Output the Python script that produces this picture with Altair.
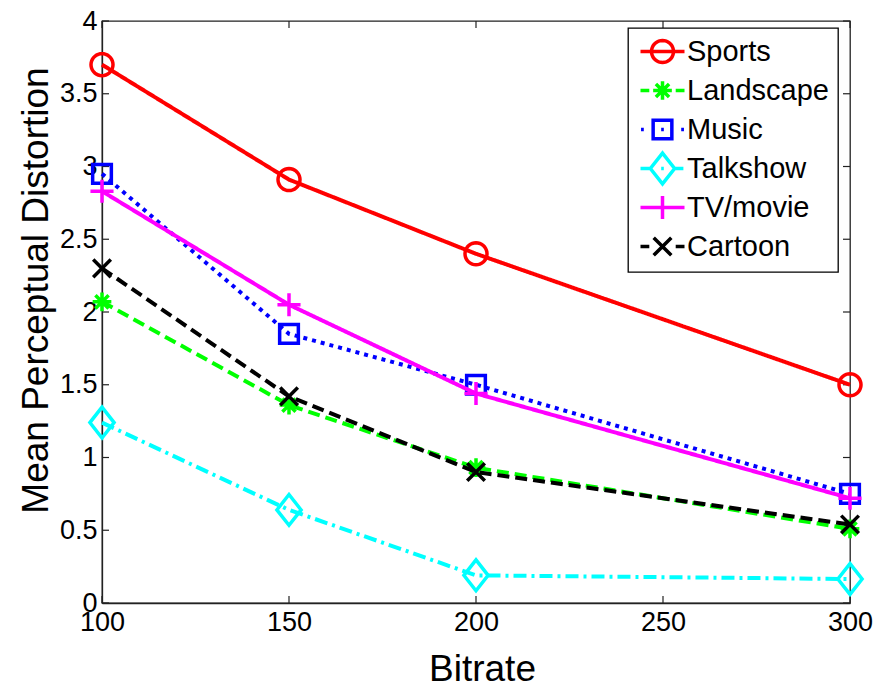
import math
import altair as alt
import pandas as pd

# ---- data ----
bitrates = [100, 150, 200, 300]
series_names = ["Sports", "Landscape", "Music", "Talkshow", "TV/movie", "Cartoon"]
sports = [3.70, 2.91, 2.40, 1.50]
landscape = [2.07, 1.36, 0.93, 0.51]
music = [2.95, 1.85, 1.50, 0.75]
talkshow = [1.24, 0.64, 0.19, 0.165]
tvmovie = [2.83, 2.05, 1.44, 0.72]
cartoon = [2.30, 1.42, 0.90, 0.54]
values = [sports, landscape, music, talkshow, tvmovie, cartoon]

x_ticks = [100, 150, 200, 250, 300]
y_ticks = [0, 0.5, 1, 1.5, 2, 2.5, 3, 3.5, 4]

# ---- styles ----
colors = ["#FF0000", "#00FF00", "#0000FF", "#00FFFF", "#FF00FF", "#000000"]
dashes = [[1, 0], [12, 6], [4, 5], [13, 5, 3, 5], [1, 0], [12, 6]]


def circle_path(cx=0.0, r=1.0, n=36):
    pts = []
    for i in range(n):
        a = 2 * math.pi * i / n
        pts.append(f"{cx + r * math.cos(a):.3f},{r * math.sin(a):.3f}")
    return "M" + "L".join(pts) + "Z"


def markers(cx=0.0):
    c = cx
    return [
        circle_path(c, 1.0),
        f"M{c-0.85},0H{c+0.85}M{c},-0.85V0.85M{c-0.6},-0.6L{c+0.6},0.6M{c-0.6},0.6L{c+0.6},-0.6",
        f"M{c-0.85},-0.85H{c+0.85}V0.85H{c-0.85}Z",
        f"M{c},-1.4L{c+1.1},0L{c},1.4L{c-1.1},0Z",
        f"M{c-1.05},0H{c+1.05}M{c},-1.05V1.05",
        f"M{c-0.8},-0.8L{c+0.8},0.8M{c-0.8},0.8L{c+0.8},-0.8",
    ]


plot_shapes = markers(0.0)
# legend symbols: line sample + marker, marker centred at x=+1 unit
leg_lines = [
    "M-1,0H3",
    "M-1,0H-0.2M2.2,0H3",
    "M-0.95,0H-0.7M0.88,0H1.12M2.7,0H2.95",
    "M-1,0H-0.15M0.88,0H1.12M2.15,0H2.9",
    "M-1,0H3",
    "M-1,0H-0.2M2.2,0H3",
]
legend_shapes = [l + m for l, m in zip(leg_lines, markers(1.0))]

rows = []
for name, vals in zip(series_names, values):
    for b, v in zip(bitrates, vals):
        rows.append({"Bitrate": b, "Distortion": v, "Series": name})
df = pd.DataFrame(rows)

W, H = 748, 582
FONT = "Liberation Sans"

x_scale = alt.Scale(domain=[100, 300], nice=False, zero=False)
y_scale = alt.Scale(domain=[0, 4], nice=False, zero=False)
color_scale = alt.Scale(domain=series_names, range=colors)

x_enc = alt.X(
    "Bitrate:Q", scale=x_scale,
    axis=alt.Axis(values=x_ticks, format="d", title="Bitrate", ticks=False,
                  labelPadding=6, labelFlush=False, titleX=380, titleY=77,
                  titleBaseline="alphabetic", titleAnchor=None, titleAlign="center"),
)
y_enc = alt.Y(
    "Distortion:Q", scale=y_scale,
    axis=alt.Axis(values=y_ticks, format="~g", title="Mean Perceptual Distortion",
                  ticks=False, labelPadding=5, labelFlush=False, titleX=-55, titleY=269,
                  titleBaseline="alphabetic", titleAngle=-90, titleAlign="center",
                  titleAnchor=None),
)

LEG = dict(title=None, orient="none", legendX=526, legendY=7,
           padding=9, symbolOffset=0, labelOffset=21, rowPadding=-6, gridAlign="all",
           strokeColor="black", fillColor="white", cornerRadius=0,
           labelFont=FONT, labelFontSize=29, labelColor="black",
           symbolSize=484, symbolStrokeWidth=3.5, symbolFillColor="transparent",
           symbolOpacity=1, labelLimit=400)

base = alt.Chart(df)
layers = []
for i, name in enumerate(series_names):
    sub = base.transform_filter(alt.datum.Series == name)
    line = sub.mark_line(strokeWidth=4, strokeDash=dashes[i], opacity=1,
                         color=colors[i]).encode(x=x_enc, y=y_enc)
    pts = sub.mark_point(shape=plot_shapes[i], size=484, strokeWidth=3.5,
                         filled=False, opacity=1, color=colors[i]).encode(x=x_enc, y=y_enc)
    layers += [line, pts]

legend_layer = base.transform_filter("false").mark_point(
    size=484, strokeWidth=3.5, filled=False, opacity=1
).encode(
    x=x_enc, y=y_enc,
    color=alt.Color("Series:N", scale=color_scale, legend=alt.Legend(**LEG)),
    shape=alt.Shape("Series:N", scale=alt.Scale(domain=series_names, range=legend_shapes),
                    legend=alt.Legend(**LEG)),
)

# inward tick marks (MATLAB box style)
ydf = pd.DataFrame({"v": y_ticks})
xdf = pd.DataFrame({"v": x_ticks})
tick_style = dict(color="#222222", strokeWidth=1.2)
yl = alt.Chart(ydf).mark_rule(**tick_style).encode(
    y=alt.Y("v:Q", scale=y_scale), x=alt.value(0), x2=alt.value(7))
yr = alt.Chart(ydf).mark_rule(**tick_style).encode(
    y=alt.Y("v:Q", scale=y_scale), x=alt.value(W - 7), x2=alt.value(W))
xb = alt.Chart(xdf).mark_rule(**tick_style).encode(
    x=alt.X("v:Q", scale=x_scale), y=alt.value(H - 7), y2=alt.value(H))
xt = alt.Chart(xdf).mark_rule(**tick_style).encode(
    x=alt.X("v:Q", scale=x_scale), y=alt.value(0), y2=alt.value(7))

chart = alt.layer(yl, yr, xb, xt, *layers, legend_layer).properties(
    width=W, height=H,
    autosize=alt.AutoSizeParams(type="none"),
    padding={"left": 94, "top": 13, "right": 24, "bottom": 82},
).configure_view(
    stroke="#222222", strokeWidth=1.3
).configure_axis(
    grid=False, domainColor="#222222", domainWidth=1.3,
    labelFont=FONT, labelFontSize=27, labelColor="black",
    titleFont=FONT, titleFontSize=37, titleColor="black", titleFontWeight="normal",
).configure_legend(
    strokeWidth=1.3,
)

chart.save("out.html", embed_options={"renderer": "svg", "actions": False})
